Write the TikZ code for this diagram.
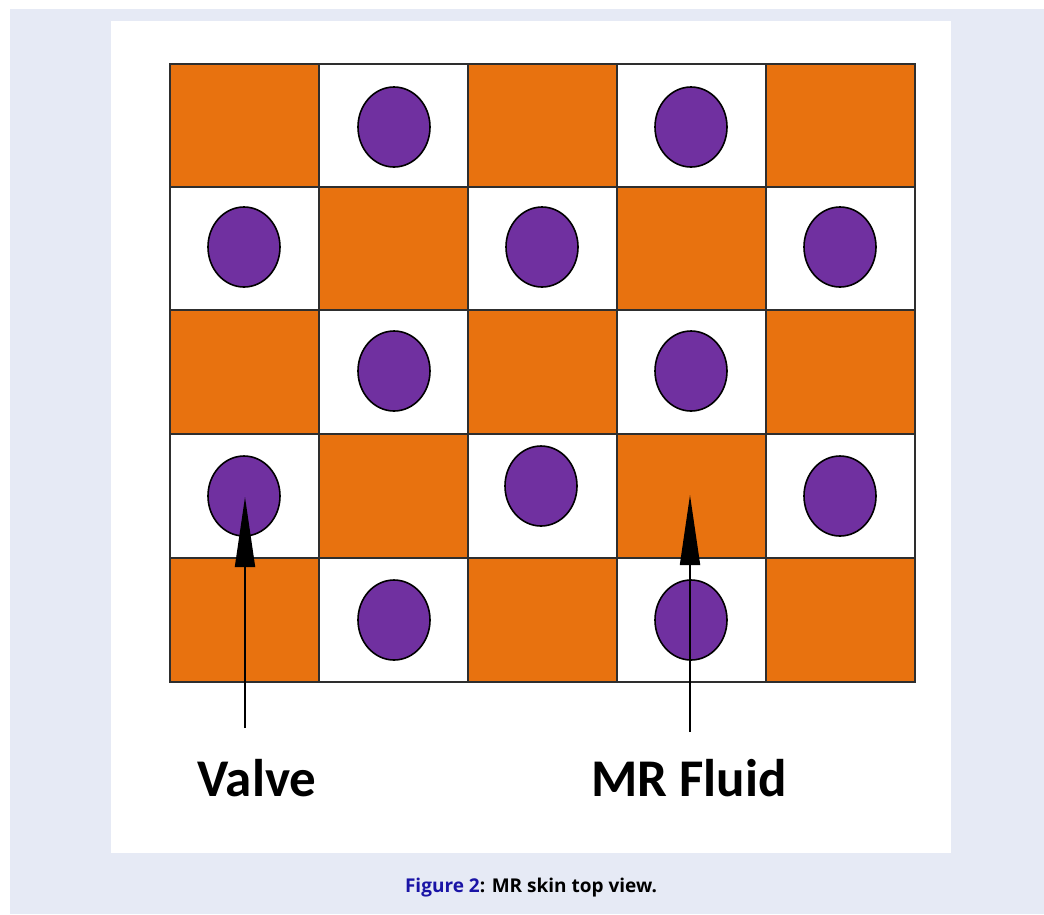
\documentclass[tikz,border=0pt]{standalone}
\usepackage{fontspec}
\setmainfont{Open Sans}
\newfontfamily\labelfont{Carlito}
\usetikzlibrary{shapes.geometric,arrows.meta}
\definecolor{bgblue}{HTML}{E6EAF5}
\definecolor{skinorange}{HTML}{E8720F}
\definecolor{valvepurple}{HTML}{7030A0}
\definecolor{gridgray}{HTML}{2E2E2E}
\definecolor{figblue}{HTML}{1A14A6}
\tikzset{
  orangecell/.style={draw=gridgray,line width=2pt,fill=skinorange,minimum width=149pt,minimum height=124pt,inner sep=0pt},
  whitecell/.style={draw=gridgray,line width=2pt,fill=white,minimum width=149pt,minimum height=124pt,inner sep=0pt},
  valvedot/.style={ellipse,draw=black,line width=1.6pt,fill=valvepurple,minimum width=72pt,minimum height=80pt,inner sep=0pt},
  pointer/.style={line width=1.8pt,-{Triangle[length=70pt,width=20pt]}},
  bigcaption/.style={font=\labelfont\bfseries\fontsize{53}{60}\selectfont,inner sep=0pt}
}
\begin{document}
\begin{tikzpicture}[x=1pt,y=-1pt]
\useasboundingbox (0,0) rectangle (1044,914);
\fill[white] (0,0) rectangle (1044,914);
\fill[bgblue] (10,9) rectangle (1044,914);
\fill[white] (111,21) rectangle (951,853);
% grid cells
\foreach \r/\y in {0/126,1/249,2/372,3/496,4/620}{
  \foreach \c/\x in {0/244.5,1/393.5,2/542.5,3/691.5,4/840}{
    \pgfmathtruncatemacro{\cellparity}{mod(\r+\c,2)}
    \ifnum\cellparity=0
      \node[orangecell] (c\r\c) at (\x,\y) {};
    \else
      \node[whitecell] (c\r\c) at (\x,\y) {};
    \fi
  }
}
% valves
\node[valvedot] (v01) at (394,127) {};
\node[valvedot] (v03) at (691,127) {};
\node[valvedot] (v10) at (244,247) {};
\node[valvedot] (v12) at (542,247) {};
\node[valvedot] (v14) at (840,247) {};
\node[valvedot] (v21) at (394,371) {};
\node[valvedot] (v23) at (691,371) {};
\node[valvedot] (v30) at (244,496) {};
\node[valvedot] (v32) at (541,486) {};
\node[valvedot] (v34) at (840,496) {};
\node[valvedot] (v41) at (394,620) {};
\node[valvedot] (v43) at (691,620) {};
% arrows
\coordinate (valvetail) at (245,728);
\coordinate (fluidtail) at (690,732);
\coordinate (valvetip) at (245,497);
\coordinate (fluidtip) at (690,495);
\draw[pointer] (valvetail) -- (valvetip);
\draw[pointer] (fluidtail) -- (fluidtip);
% labels
\node[bigcaption] (valvelabel) at (257,778) {Valve};
\node[bigcaption] (fluidlabel) at (689,778) {MR Fluid};
\node[font=\bfseries\fontsize{19}{22}\selectfont,inner sep=0pt] (caption) at (531,888) {\textcolor{figblue}{Figure 2}: MR skin top view.};
\end{tikzpicture}
\end{document}
